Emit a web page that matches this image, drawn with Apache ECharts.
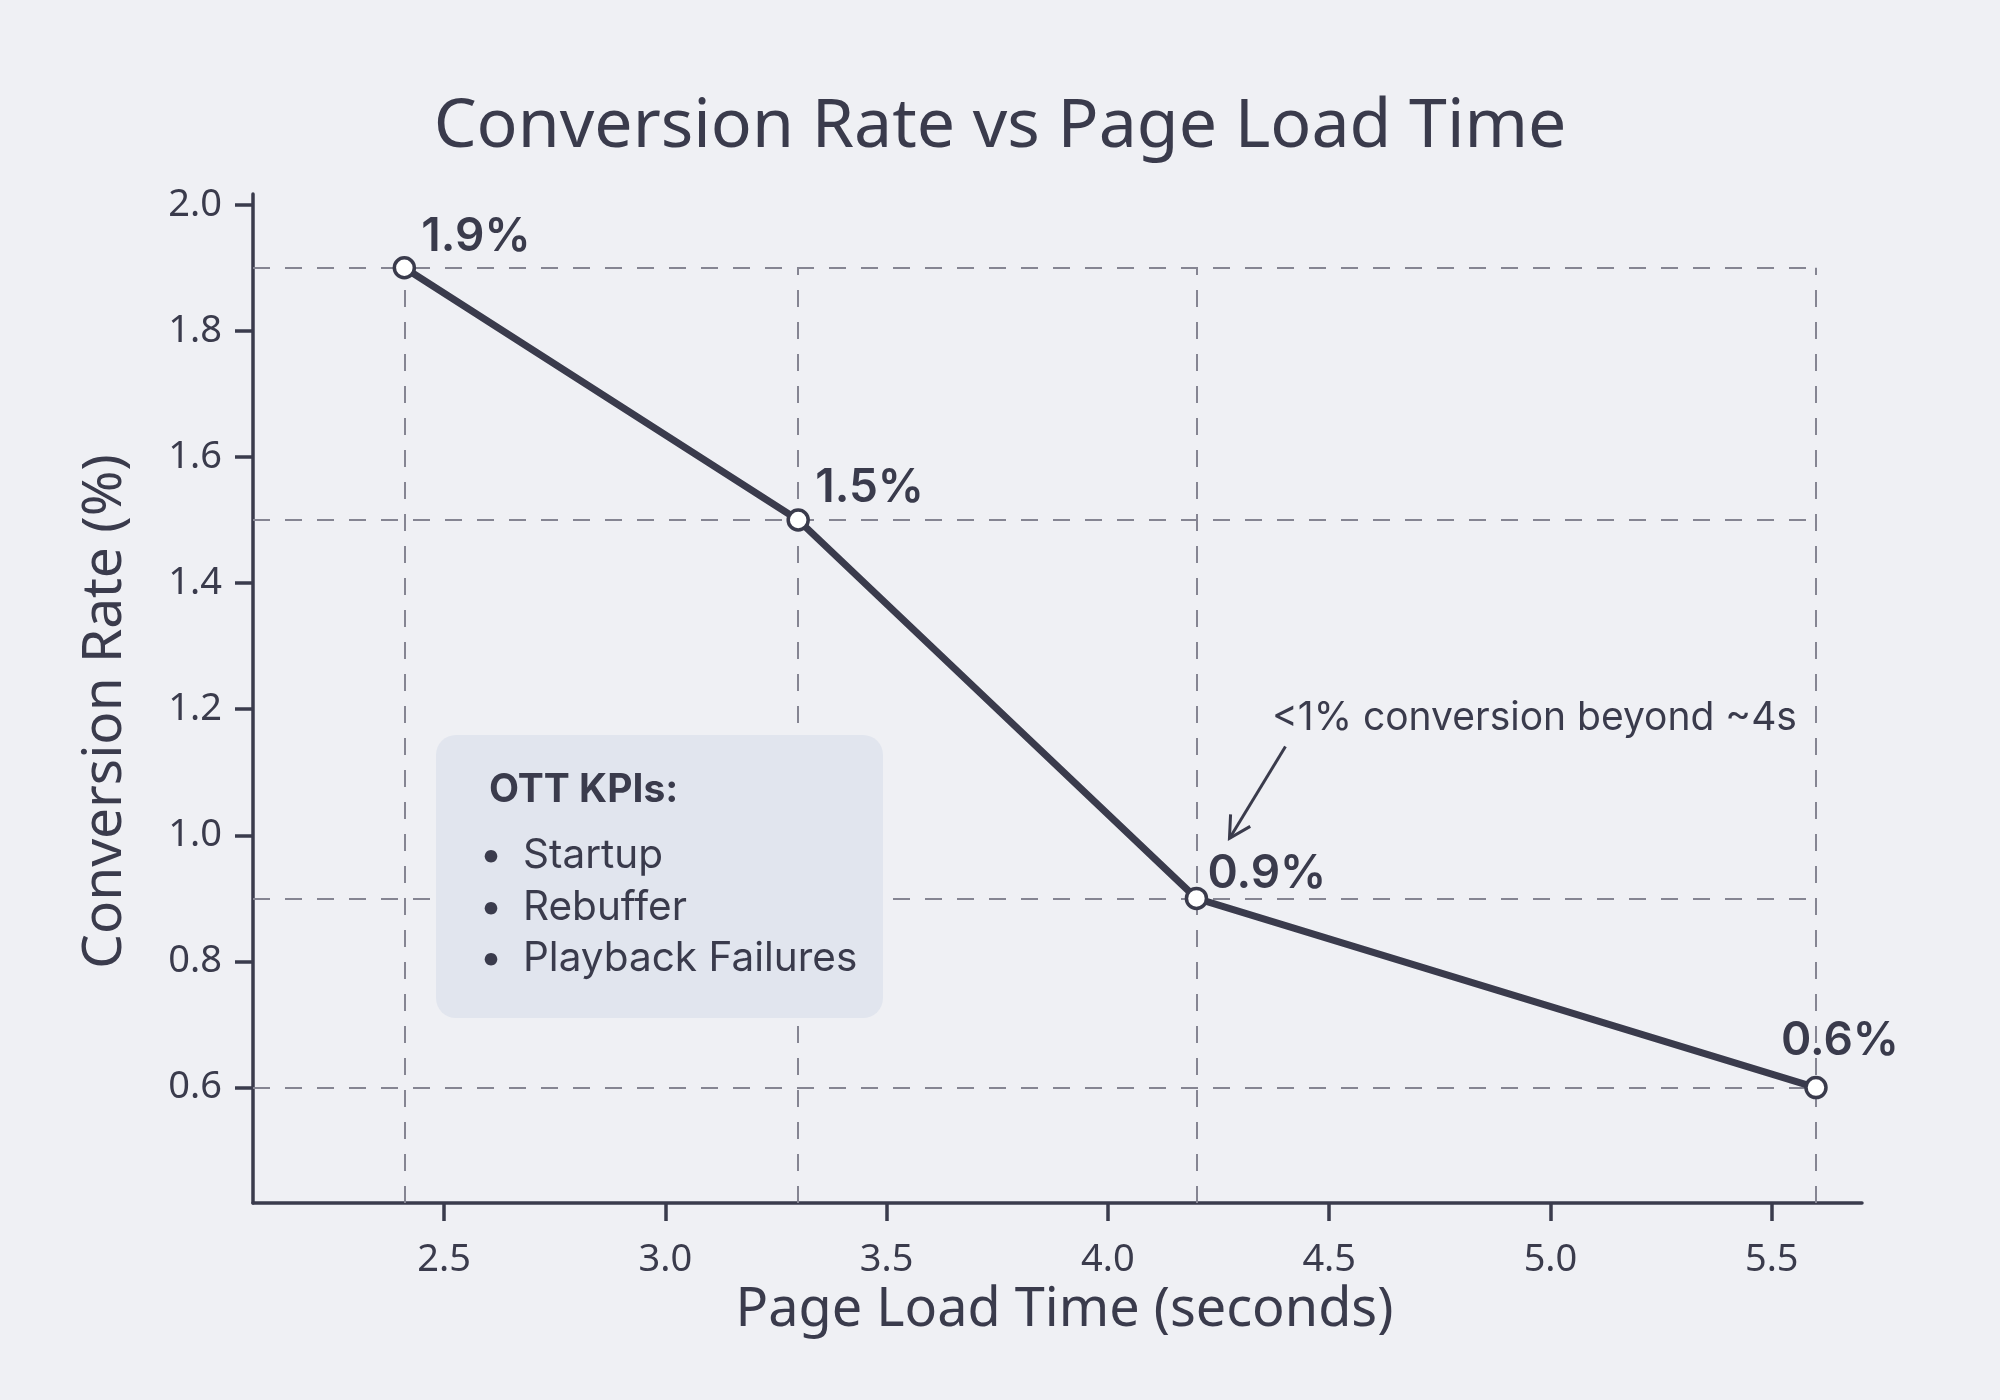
<!DOCTYPE html>
<html>
<head>
<meta charset="utf-8">
<script src="https://cdn.jsdelivr.net/npm/echarts@6/dist/echarts.min.js"></script>
<style>
  html, body { margin: 0; padding: 0; background: #eff0f4; }
  #chart { width: 2000px; height: 1400px; }
</style>
</head>
<body>
<div id="chart"></div>
<script>
// data
var loadTimes = [2.41, 3.3, 4.2, 5.6];
var convRates = [1.9, 1.5, 0.9, 0.6];
var xTicks = [2.5, 3.0, 3.5, 4.0, 4.5, 5.0, 5.5];
var yTicks = [0.6, 0.8, 1.0, 1.2, 1.4, 1.6, 1.8, 2.0];
var kpiTitle = 'OTT KPIs:';
var kpiItems = ['Startup', 'Rebuffer', 'Playback Failures'];
var noteText = '<1% conversion beyond ~4s';

// label placement per point (px from the marker)
var labelOffsets = [[17, -8], [17, -9], [11, -1], [-35, -23]];

var ink = '#3a3b4c';
var xMin = 2.068, xMax = 5.704;
var yMin = 0.417, yMax = 2.017;

var points = loadTimes.map(function (x, i) {
    return {
        value: [x, convRates[i]],
        label: { offset: labelOffsets[i] }
    };
});

// dashed guides from the axes to each point
var guides = [];
var xTop = Math.max.apply(null, loadTimes);
var yTop = Math.max.apply(null, convRates);
loadTimes.forEach(function (x) {
    guides.push([{ coord: [x, yMin] }, { coord: [x, yTop] }]);
});
convRates.forEach(function (y) {
    guides.push([{ coord: [xMin, y] }, { coord: [xTop, y] }]);
});

var chart = echarts.init(document.getElementById('chart'));
var option = {
    backgroundColor: '#eff0f4',
    animation: false,
    title: {
        text: 'Conversion Rate vs Page Load Time',
        left: 'center',
        top: 89,
        textStyle: { fontFamily: 'Noto Sans', fontSize: 68, fontWeight: 'normal', color: ink }
    },
    grid: { left: 253, right: 138, top: 194, bottom: 197 },
    xAxis: {
        type: 'value',
        min: xMin,
        max: xMax,
        name: 'Page Load Time (seconds)',
        nameLocation: 'middle',
        nameGap: 74,
        nameTextStyle: { fontFamily: 'Noto Sans', fontSize: 54, color: ink, padding: [0, 0, 0, 14] },
        axisLine: { show: true, lineStyle: { color: ink, width: 3.5 } },
        axisTick: { show: true, length: 18, lineStyle: { color: ink, width: 3.5 }, customValues: xTicks },
        axisLabel: {
            fontFamily: 'Noto Sans', fontSize: 38, color: ink, margin: 38,
            customValues: xTicks,
            formatter: function (v) { return v.toFixed(1); }
        },
        splitLine: { show: false }
    },
    yAxis: {
        type: 'value',
        min: yMin,
        max: yMax,
        name: 'Conversion Rate (%)',
        nameLocation: 'middle',
        nameGap: 120,
        nameTextStyle: { fontFamily: 'Noto Sans', fontSize: 55, color: ink, padding: [0, 26, 0, 0] },
        axisLine: { show: true, lineStyle: { color: ink, width: 3.5 } },
        axisTick: { show: true, length: 18, lineStyle: { color: ink, width: 3.5 }, customValues: yTicks },
        axisLabel: {
            fontFamily: 'Noto Sans', fontSize: 38, color: ink, margin: 31,
            customValues: yTicks,
            formatter: function (v) { return v.toFixed(1); }
        },
        splitLine: { show: false }
    },
    series: [
        {
            type: 'line',
            data: [],
            silent: true,
            z: 1,
            markLine: {
                silent: true,
                symbol: ['none', 'none'],
                label: { show: false },
                lineStyle: { color: '#858592', width: 2, type: [17, 15] },
                data: guides
            }
        },
        {
            type: 'line',
            data: points,
            z: 5,
            symbol: 'circle',
            symbolSize: 20,
            lineStyle: { color: ink, width: 7 },
            itemStyle: { color: '#ffffff', borderColor: ink, borderWidth: 3.5 },
            label: {
                show: true,
                position: 'inside',
                align: 'left',
                verticalAlign: 'bottom',
                fontFamily: 'Inter',
                fontWeight: 600,
                fontSize: 46,
                color: ink,
                formatter: function (p) { return p.value[1].toFixed(1) + '%'; }
            }
        }
    ]
};
chart.setOption(option);

// annotation box and arrow, placed relative to the grid
var p = chart.convertToPixel({ gridIndex: 0 }, [loadTimes[2], convRates[2]]);
var tip = [p[0] + 33, p[1] - 60];
var tail = [p[0] + 89, p[1] - 152];
var ang = Math.atan2(tail[1] - tip[1], tail[0] - tip[0]);
var hl = 24, spread = 0.5;
var head = [
    [tip[0] + hl * Math.cos(ang + spread), tip[1] + hl * Math.sin(ang + spread)],
    tip,
    [tip[0] + hl * Math.cos(ang - spread), tip[1] + hl * Math.sin(ang - spread)]
];

var kpiLines = [];
kpiItems.forEach(function (t, i) {
    kpiLines.push({
        type: 'text', z: 101,
        style: { x: 491, y: 856 + i * 51.5, text: '•', fontFamily: 'Inter', fontSize: 40, fill: ink, align: 'center', verticalAlign: 'middle' }
    });
    kpiLines.push({
        type: 'text', z: 101,
        style: { x: 523, y: 856 + i * 51.5, text: t, fontFamily: 'Inter', fontSize: 40.5, fill: ink, verticalAlign: 'middle' }
    });
});

chart.setOption({
    graphic: [
        {
            type: 'rect', z: 100,
            shape: { x: 436, y: 735, width: 447, height: 283, r: 20 },
            style: { fill: '#e1e5ee' }
        },
        {
            type: 'text', z: 101,
            style: { x: 489, y: 790, text: kpiTitle, fontFamily: 'Inter', fontWeight: 'bold', fontSize: 39, fill: ink, verticalAlign: 'middle' }
        }
    ].concat(kpiLines).concat([
        {
            type: 'text', z: 101,
            style: { x: 1272, y: 718, text: noteText, fontFamily: 'Inter', fontSize: 39, fill: ink, verticalAlign: 'middle' }
        },
        {
            type: 'polyline', z: 101,
            shape: { points: [tail, tip] },
            style: { stroke: ink, lineWidth: 3, fill: null }
        },
        {
            type: 'polyline', z: 101,
            shape: { points: head },
            style: { stroke: ink, lineWidth: 3, fill: null }
        }
    ])
});
</script>
</body>
</html>
